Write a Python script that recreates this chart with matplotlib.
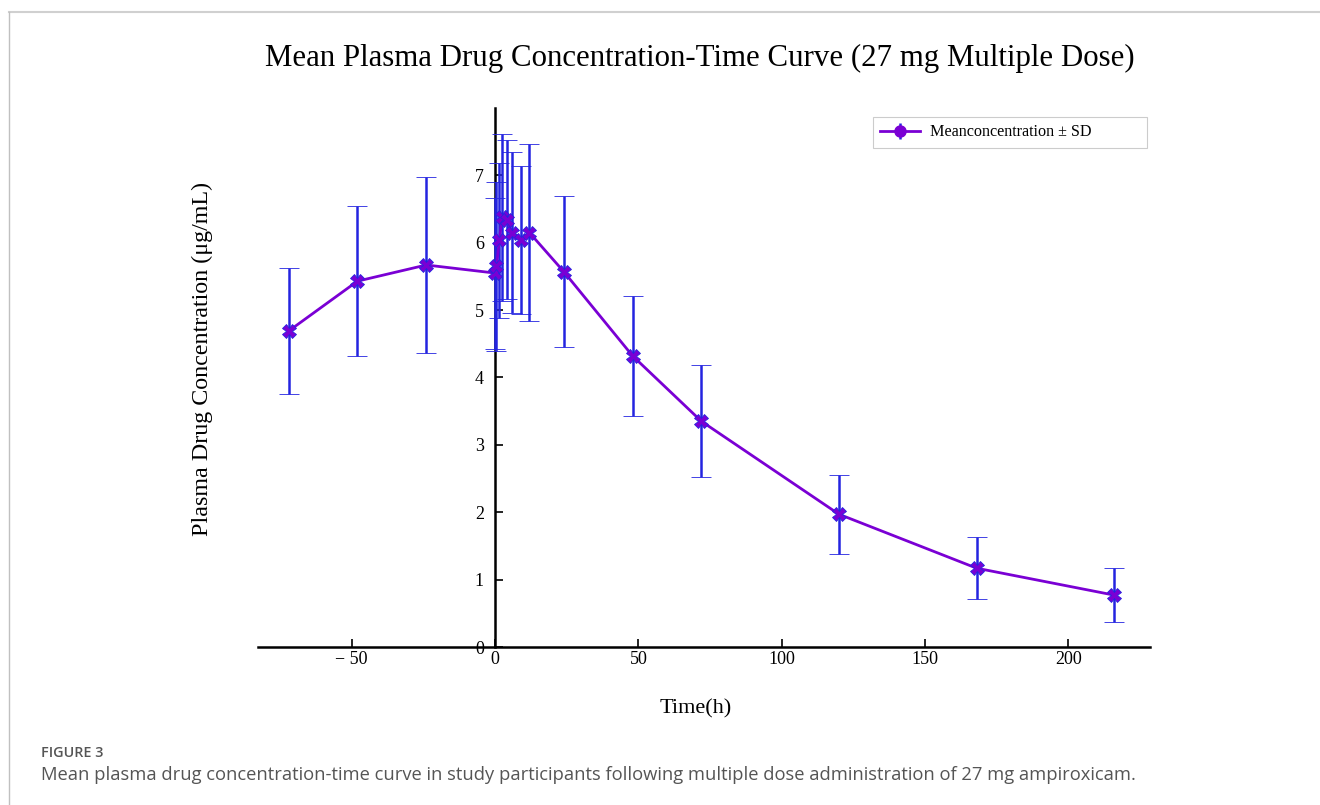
import numpy as np
import matplotlib.pyplot as plt
from matplotlib.lines import Line2D

# mean plasma concentration (ug/mL) +/- SD
time_h = [-72, -48, -24, 0, 0.5, 1.5, 2.5, 4, 6, 9, 12, 24, 48, 72, 120, 168, 216]
mean_conc = [4.69, 5.43, 5.67, 5.55, 5.65, 6.04, 6.38, 6.34, 6.15, 6.04, 6.15,
             5.57, 4.32, 3.35, 1.97, 1.17, 0.77]
sd_conc = [0.94, 1.11, 1.31, 1.12, 1.25, 1.15, 1.24, 1.18, 1.19, 1.10, 1.31,
           1.12, 0.89, 0.83, 0.59, 0.46, 0.40]

x_ticks = [-50, 0, 50, 100, 150, 200]
x_labels = ["\u2212 50", "0", "50", "100", "150", "200"]
y_ticks = [0, 1, 2, 3, 4, 5, 6, 7]

purple = "#7a00d4"
blue = "#2424e0"
serif = ["Liberation Serif", "DejaVu Serif"]

fig = plt.figure(figsize=(13.2, 8.05), dpi=100)
ax = fig.add_axes([258 / 1320, 1 - 647 / 805, (1150 - 258) / 1320, (647 - 108) / 805])

ax.errorbar(time_h, mean_conc, yerr=sd_conc, fmt="-", color=purple, lw=2,
            marker="X", ms=9.5, mfc=purple, mec=blue, mew=0.6,
            ecolor=blue, elinewidth=1.8, capsize=7, capthick=1.8, zorder=3)

ax.set_xlim(-82.7, 228.5)
ax.set_ylim(0, 8)

for s in ["top", "right"]:
    ax.spines[s].set_visible(False)
ax.spines["left"].set_position(("data", 0))
ax.spines["left"].set_linewidth(1.8)
ax.spines["bottom"].set_linewidth(1.8)

ax.set_xticks(x_ticks)
ax.set_xticklabels(x_labels)
ax.set_yticks(y_ticks)
ax.tick_params(direction="in", length=6, width=1.2, labelsize=13)
ax.tick_params(axis="y", pad=8)
ax.tick_params(axis="x", pad=3)
for lab in ax.get_xticklabels() + ax.get_yticklabels():
    lab.set_family(serif)

# legend proxy: line with round marker and error bar
proxy = ax.errorbar([], [], yerr=[], fmt="-", color=purple, lw=2, marker="o",
                    ms=8, mfc=purple, mec=purple, ecolor=blue,
                    elinewidth=1.8, capsize=7, capthick=1.8)
leg = ax.legend([proxy], ["Meanconcentration \u00b1 SD" + "\u2003" * 3],
                loc="upper right", bbox_to_anchor=(0.9966, 0.9833),
                borderaxespad=0, fancybox=False, framealpha=1,
                edgecolor="#cccccc", borderpad=0.45, handlelength=2.5,
                handletextpad=0.6, prop={"family": serif, "size": 11.6})
leg.get_frame().set_linewidth(0.8)

fig.text(0.53, 0.927, "Mean Plasma Drug Concentration-Time Curve (27 mg Multiple Dose)",
         ha="center", va="center", fontsize=22.2, family=serif)
fig.text(0.153, 0.554, "Plasma Drug Concentration (\u03bcg/mL)", rotation=90,
         ha="center", va="center", fontsize=17.3, family=serif)
fig.text(0.527, 0.12, "Time(h)", ha="center", va="center", fontsize=16, family=serif)

fig.text(41 / 1320, 1 - 753 / 805, "FIGURE 3", ha="left", va="center",
         fontsize=10.4, color="#555555", family="Open Sans", weight="semibold")
fig.text(41 / 1320, 1 - 775 / 805,
         "Mean plasma drug concentration-time curve in study participants following "
         "multiple dose administration of 27 mg ampiroxicam.",
         ha="left", va="center", fontsize=13.2, color="#555555", family="Open Sans")

# page border lines
fig.add_artist(Line2D([9 / 1320, 1], [1 - 12 / 805, 1 - 12 / 805],
                      transform=fig.transFigure, color="#d0d0d0", lw=1.5))
fig.add_artist(Line2D([9 / 1320, 9 / 1320], [0, 1 - 12 / 805],
                      transform=fig.transFigure, color="#c0c0c0", lw=1))

fig.savefig("out.png", dpi=100)
